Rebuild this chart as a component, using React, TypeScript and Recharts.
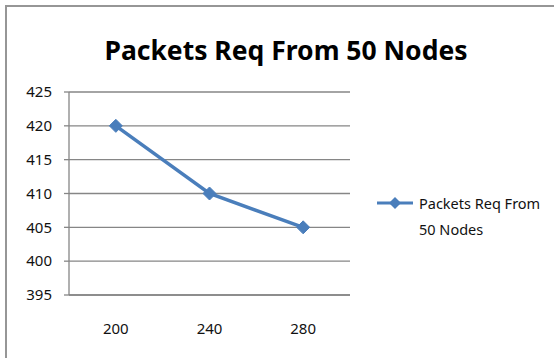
import { LineChart, Line, XAxis, YAxis, CartesianGrid } from "recharts";

const TITLE = "Packets Req From 50 Nodes";
const SERIES_NAME = "Packets Req From 50 Nodes";
const NODE_COUNTS = [200, 240, 280];
const PACKETS_REQ = [420, 410, 405];
const Y_TICKS = [395, 400, 405, 410, 415, 420, 425];
// category boundaries, used only for the tick marks under the x axis
const X_EDGES = [180, 220, 260, 300];

const data = NODE_COUNTS.map((n, i) => ({ nodes: n, packets: PACKETS_REQ[i] }));

const BLUE = "#4A7EBB";
const GRID = "#868686";
const FONT = "'Noto Sans', sans-serif";

const Diamond = (props: any) => {
  const { cx, cy } = props;
  if (cx == null || cy == null) return null;
  const r = 6.5;
  return (
    <polygon
      points={`${cx},${cy - r} ${cx + r},${cy} ${cx},${cy + r} ${cx - r},${cy}`}
      fill={BLUE}
      stroke={BLUE}
    />
  );
};

const SeriesLegend = () => (
  <div
    style={{
      position: "absolute",
      left: 376,
      top: 190,
      display: "flex",
      alignItems: "flex-start",
      fontFamily: FONT,
      fontSize: 14.5,
      color: "#111",
    }}
  >
    <svg width={38} height={20} style={{ flexShrink: 0, marginTop: 3 }}>
      <line x1={1} y1={10} x2={37} y2={10} stroke={BLUE} strokeWidth={3} />
      <polygon points="19,4 25,10 19,16 13,10" fill={BLUE} />
    </svg>
    <div style={{ marginLeft: 5, lineHeight: "26px", width: 135 }}>{SERIES_NAME}</div>
  </div>
);

export default function App() {
  return (
    <div style={{ position: "absolute", left: 0, top: 0, width: 554, height: 358, overflow: "hidden", background: "#fff" }}>
      <div
        style={{
          position: "absolute",
          left: 5,
          top: 5,
          width: 620,
          height: 420,
          border: "2px solid #969696",
        }}
      />
      <div
        style={{
          position: "absolute",
          left: 0,
          width: 572,
          top: 30,
          textAlign: "center",
          fontFamily: FONT,
          fontWeight: 700,
          fontSize: 26.5,
          lineHeight: "40px",
          color: "#000",
        }}
      >
        {TITLE}
      </div>
      <div style={{ position: "absolute", left: 0, top: 0 }}>
        <LineChart width={554} height={358} data={data} margin={{ top: 92, right: 204, bottom: 33, left: 9 }}>
          <CartesianGrid vertical={false} stroke={GRID} strokeWidth={1.3} />
          <XAxis
            dataKey="nodes"
            type="number"
            domain={[180, 300]}
            ticks={NODE_COUNTS}
            axisLine={{ stroke: GRID, strokeWidth: 1.3 }}
            tickLine={false}
            tickSize={0}
            tickMargin={28}
            height={30}
            tick={{ fill: "#111", fontSize: 15, fontFamily: FONT }}
          />
          <XAxis
            xAxisId="edges"
            dataKey="nodes"
            type="number"
            domain={[180, 300]}
            ticks={X_EDGES}
            axisLine={false}
            tickLine={{ stroke: GRID, strokeWidth: 1.3 }}
            tickSize={5}
            tick={false}
            height={0}
          />
          <YAxis
            type="number"
            domain={[395, 425]}
            ticks={Y_TICKS}
            interval={0}
            width={60}
            axisLine={{ stroke: GRID, strokeWidth: 1.3 }}
            tickLine={{ stroke: GRID, strokeWidth: 1.3 }}
            tickSize={5}
            tickMargin={12}
            tick={{ fill: "#111", fontSize: 15, fontFamily: FONT }}
          />
          <Line
            type="linear"
            dataKey="packets"
            name={SERIES_NAME}
            stroke={BLUE}
            strokeWidth={3.5}
            dot={<Diamond />}
            activeDot={false}
            isAnimationActive={false}
          />
        </LineChart>
      </div>
      <SeriesLegend />
    </div>
  );
}
